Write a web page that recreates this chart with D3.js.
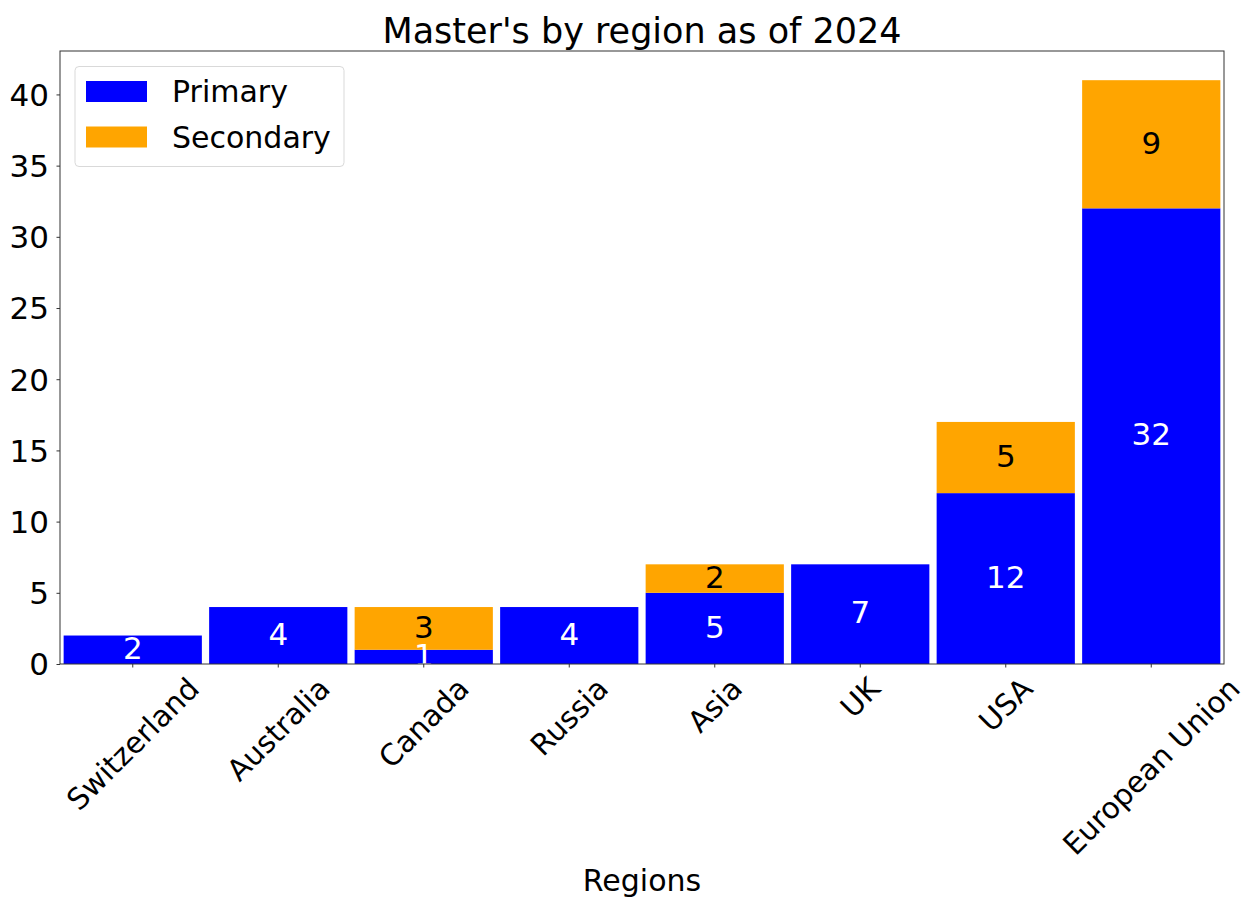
<!DOCTYPE html>
<html>
<head>
<meta charset="utf-8">
<script src="https://cdn.jsdelivr.net/npm/d3@7"></script>
<style>
  body { margin: 0; background: white; }
  text { font-family: "DejaVu Sans", sans-serif; }
</style>
</head>
<body>
<div id="chart"></div>
<script>
const REGIONS = ["Switzerland", "Australia", "Canada", "Russia", "Asia", "UK", "USA", "European Union"];
const PRIMARY = [2, 4, 1, 4, 5, 7, 12, 32];
const SECONDARY = [0, 0, 3, 0, 2, 0, 5, 9];
const Y_TICKS = [0, 5, 10, 15, 20, 25, 30, 35, 40];
const SERIES = ["Primary", "Secondary"];
const COLORS = {"Primary": "#0000ff", "Secondary": "#ffa500"};
const LABEL_COLORS = {"Primary": "white", "Secondary": "black"};

var width = 1244, height = 897;
var margin = {left: 60, right: 20, top: 51, bottom: 233};

var svg = d3.select("#chart")
  .append("svg")
  .attr("width", width)
  .attr("height", height);

var x = d3.scaleBand()
  .domain(REGIONS)
  .range([margin.left, width - margin.right])
  .paddingInner(0.05)
  .paddingOuter(0.025);

var totals = PRIMARY.map((p, i) => p + SECONDARY[i]);
var y = d3.scaleLinear()
  .domain([0, d3.max(totals) * 1.05])
  .range([height - margin.bottom, margin.top]);

var rows = REGIONS.map((r, i) => ({region: r, Primary: PRIMARY[i], Secondary: SECONDARY[i]}));
var stacked = d3.stack().keys(SERIES)(rows);

// bars
var layers = svg.append("g").selectAll("g")
  .data(stacked)
  .enter()
  .append("g")
  .attr("fill", d => COLORS[d.key]);

layers.selectAll("rect")
  .data(d => d.filter(s => s[1] - s[0] > 0))
  .enter()
  .append("rect")
  .attr("x", d => x(d.data.region))
  .attr("y", d => y(d[1]))
  .attr("width", x.bandwidth())
  .attr("height", d => y(d[0]) - y(d[1]));

// labels in the middle of each segment
stacked.forEach(function(layer) {
  svg.append("g").selectAll("text")
    .data(layer.filter(s => s[1] - s[0] > 0))
    .enter()
    .append("text")
    .attr("x", d => x(d.data.region) + x.bandwidth() / 2)
    .attr("y", d => y((d[0] + d[1]) / 2))
    .attr("dy", "0.3em")
    .attr("text-anchor", "middle")
    .style("font-size", "31px")
    .style("fill", LABEL_COLORS[layer.key])
    .text(d => d[1] - d[0]);
});

// y axis
var yAxis = svg.append("g")
  .attr("transform", "translate(" + margin.left + ",0)")
  .call(d3.axisLeft(y).tickValues(Y_TICKS).tickSize(3.5).tickPadding(7.5).tickFormat(d3.format("d")));
yAxis.select(".domain").remove();
yAxis.selectAll("line").attr("stroke", "#333");
yAxis.selectAll("text").style("font-size", "31px").attr("fill", "black").attr("dy", "0.35em");

// x axis ticks
var bottom = height - margin.bottom;
var xAxis = svg.append("g")
  .attr("transform", "translate(0," + bottom + ")")
  .call(d3.axisBottom(x).tickSize(3.5).tickFormat(""));
xAxis.select(".domain").remove();
xAxis.selectAll("line").attr("stroke", "#333");

// rotated x tick labels, bbox centred under the tick like matplotlib
var tickFont = 29.5;
REGIONS.forEach(function(r) {
  var g = svg.append("g");
  var t = g.append("text")
    .attr("text-anchor", "middle")
    .attr("dy", "0.35em")
    .style("font-size", tickFont + "px")
    .text(r);
  var L = t.node().getComputedTextLength();
  var H = (L + 1.164 * tickFont) * Math.SQRT1_2;
  var cx = x(r) + x.bandwidth() / 2;
  var cy = bottom + 7 + H / 2;
  g.attr("transform", "translate(" + cx + "," + cy + ") rotate(-45)");
});

// frame
svg.append("rect")
  .attr("x", margin.left)
  .attr("y", margin.top)
  .attr("width", width - margin.left - margin.right)
  .attr("height", bottom - margin.top)
  .attr("fill", "none")
  .attr("stroke", "#333")
  .attr("stroke-width", 1);

// title and axis label
svg.append("text")
  .attr("x", (margin.left + width - margin.right) / 2)
  .attr("y", 43)
  .attr("text-anchor", "middle")
  .style("font-size", "35px")
  .text("Master's by region as of 2024");

svg.append("text")
  .attr("x", (margin.left + width - margin.right) / 2)
  .attr("y", 891)
  .attr("text-anchor", "middle")
  .style("font-size", "30px")
  .text("Regions");

// legend
var legend = svg.append("g");
legend.append("rect")
  .attr("x", 75)
  .attr("y", 66.5)
  .attr("width", 269)
  .attr("height", 100)
  .attr("rx", 4)
  .attr("fill", "white")
  .attr("fill-opacity", 0.8)
  .attr("stroke", "#d9d9d9");

legend.selectAll(".swatch")
  .data(SERIES)
  .enter()
  .append("rect")
  .attr("x", 86)
  .attr("y", (d, i) => 81 + i * 45.5)
  .attr("width", 61)
  .attr("height", 21)
  .attr("fill", d => COLORS[d]);

legend.selectAll(".label")
  .data(SERIES)
  .enter()
  .append("text")
  .attr("x", 172)
  .attr("y", (d, i) => 102 + i * 45.5)
  .style("font-size", "30px")
  .text(d => d);
</script>
</body>
</html>
